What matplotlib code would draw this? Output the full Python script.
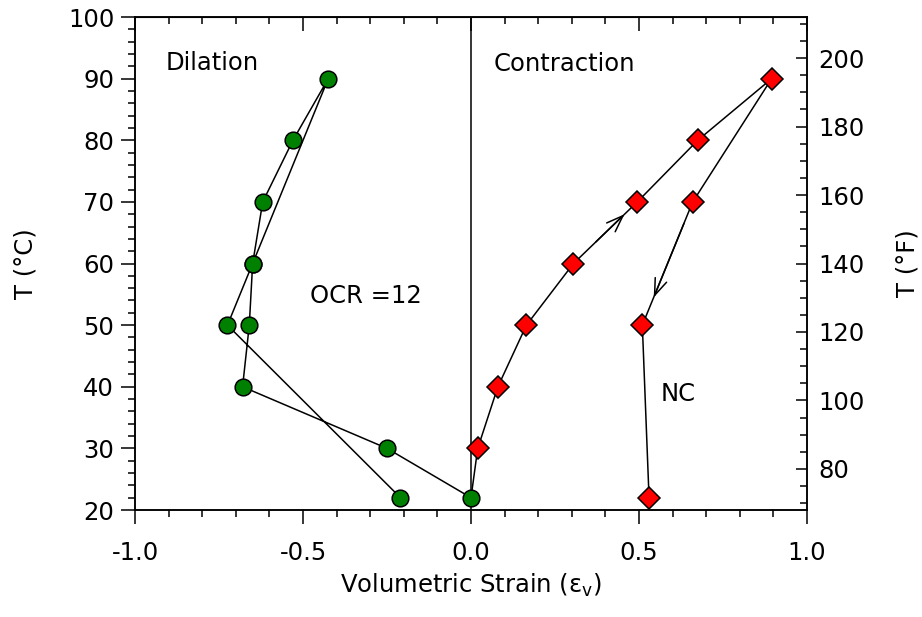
import numpy as np
import matplotlib
matplotlib.use('Agg')
import matplotlib.pyplot as plt
from matplotlib.ticker import MultipleLocator

# Datos: OCR = 12 (círculos verdes), orden del ciclo de calentamiento/enfriamiento
ocr_strain = [0.0, -0.25, -0.68, -0.66, -0.65, -0.62, -0.53, -0.425, -0.65, -0.725, -0.21]
ocr_temp = [22, 30, 40, 50, 60, 70, 80, 90, 60, 50, 22]

# Datos: NC (rombos rojos)
nc_strain = [0.0, 0.02, 0.08, 0.165, 0.305, 0.495, 0.675, 0.895, 0.66, 0.51, 0.53]
nc_temp = [22, 30, 40, 50, 60, 70, 80, 90, 70, 50, 22]

# Flechas sobre la curva NC (cola, punta)
arrow_tail = [(0.3715, 63.5), (0.634, 66.5)]
arrow_head = [(0.457, 68.0), (0.544, 54.5)]

plt.rcParams['font.family'] = 'DejaVu Sans'
FS = 17.5

fig = plt.figure(figsize=(9.22, 6.17), dpi=100)
ax = fig.add_axes([0.1465, 0.1734, 0.7287, 0.7990])

ax.axvline(0, color='black', lw=1.1, zorder=1)

ax.plot(ocr_strain, ocr_temp, '-', color='black', lw=1.1, zorder=2)
ax.plot(ocr_strain, ocr_temp, 'o', ms=12, mfc='green', mec='black', mew=1.1, zorder=3)

ax.plot(nc_strain, nc_temp, '-', color='black', lw=1.1, zorder=2)
ax.plot(nc_strain[1:], nc_temp[1:], 'D', ms=11.5, mfc='red', mec='black', mew=1.1, zorder=3)

for tail, head in zip(arrow_tail, arrow_head):
    ax.annotate('', xy=head, xytext=tail,
                arrowprops=dict(arrowstyle='->,head_length=0.6,head_width=0.22',
                                lw=1.1, color='black',
                                mutation_scale=20, shrinkA=0, shrinkB=0))

ax.set_xlim(-1.0, 1.0)
ax.set_ylim(20, 100)
ax.xaxis.set_minor_locator(MultipleLocator(0.1))
ax.yaxis.set_major_locator(MultipleLocator(10))
ax.yaxis.set_minor_locator(MultipleLocator(2))
ax.set_xticks([-1.0, -0.5, 0.0, 0.5, 1.0])
ax.set_xticklabels(['-1.0', '-0.5', '0.0', '0.5', '1.0'])

ax.tick_params(axis='x', which='both', direction='out', top=False, labelsize=FS, width=1.1)
ax.tick_params(axis='x', which='major', pad=12)
ax.tick_params(axis='y', which='both', direction='out', right=False, labelsize=FS, width=1.1)
ax.tick_params(axis='y', which='major', pad=5)
ax.tick_params(which='major', length=10)
ax.tick_params(which='minor', length=5)

# Eje superior con marcas hacia dentro
axt = ax.secondary_xaxis('top')
axt.xaxis.set_major_locator(MultipleLocator(0.5))
axt.xaxis.set_minor_locator(MultipleLocator(0.1))
axt.tick_params(which='both', direction='in', labeltop=False, width=1.1)
axt.tick_params(which='major', length=10)
axt.tick_params(which='minor', length=5)

ax.set_xlabel('Volumetric Strain (ε$_\\mathregular{v}$)', fontsize=FS, labelpad=5)
ax.set_ylabel('T (°C)', fontsize=FS, labelpad=22)

# Eje derecho en °F
ax2 = ax.twinx()
ax2.set_ylim(20 * 1.8 + 32, 100 * 1.8 + 32)
ax2.yaxis.set_major_locator(MultipleLocator(20))
ax2.yaxis.set_minor_locator(MultipleLocator(5))
ax2.tick_params(which='both', direction='in', labelsize=FS, width=1.1)
ax2.tick_params(which='major', length=8, pad=8.5)
ax2.tick_params(which='minor', length=5)
ax2.set_ylabel('T (°F)', fontsize=FS, labelpad=22)

for a in (ax, ax2):
    for s in a.spines.values():
        s.set_linewidth(1.1)

ax.text(-0.91, 92.5, 'Dilation', fontsize=FS, va='center', ha='left')
ax.text(0.068, 92.3, 'Contraction', fontsize=FS, va='center', ha='left')
ax.text(-0.48, 54.7, 'OCR =12', fontsize=FS, va='center', ha='left')
ax.text(0.565, 38.8, 'NC', fontsize=FS, va='center', ha='left')

fig.savefig('out.png', dpi=100)
